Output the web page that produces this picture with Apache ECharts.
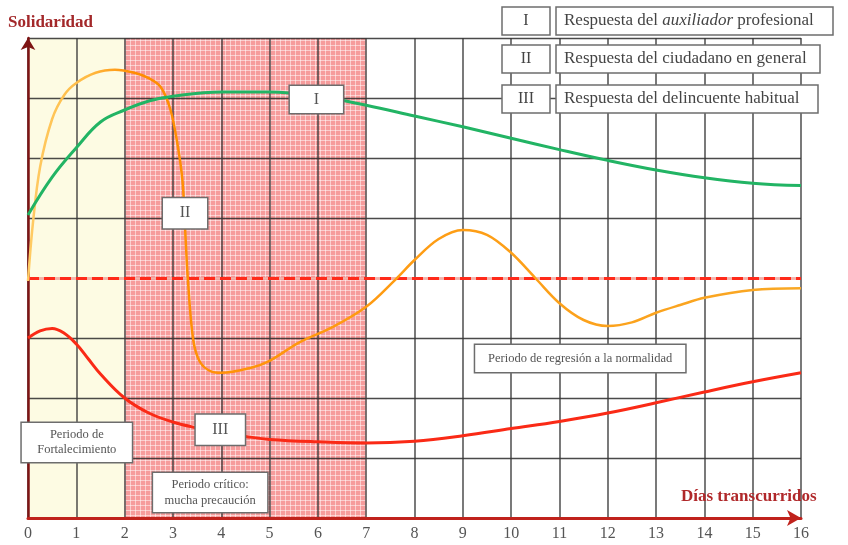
<!DOCTYPE html>
<html>
<head>
<meta charset="utf-8">
<script src="https://cdn.jsdelivr.net/npm/echarts@6/dist/echarts.min.js"></script>
<style>
  html, body { margin: 0; padding: 0; background: #fff; }
  #chart { width: 848px; height: 545px; }
</style>
</head>
<body>
<div id="chart"></div>
<script>
// dias transcurridos (eje x) y niveles de solidaridad
const xTicks = [0, 1, 2, 3, 4, 5, 6, 7, 8, 9, 10, 11, 12, 13, 14, 15, 16];

// I - Respuesta del auxiliador profesional
const auxiliador = [
  [0, 5.05], [0.5, 5.68], [1, 6.17], [1.5, 6.6], [2, 6.8], [2.5, 6.95], [3, 7.03],
  [4, 7.1], [5, 7.1], [6, 7.03], [7, 6.88], [8, 6.7], [9, 6.52], [10, 6.33],
  [11, 6.14], [12, 5.96], [13, 5.8], [14, 5.67], [15, 5.58], [16, 5.54]
];

// II - Respuesta del ciudadano en general
const ciudadano = [
  [0, 3.95], [0.1, 4.9], [0.25, 5.85], [0.5, 6.65], [0.75, 7.05], [1, 7.25],
  [1.4, 7.42], [1.8, 7.47], [2.2, 7.42], [2.5, 7.33], [2.75, 7.18], [2.95, 6.8],
  [3.1, 6.2], [3.2, 5.6], [3.25, 4.85], [3.31, 3.97], [3.42, 2.97], [3.56, 2.6],
  [3.8, 2.44], [4, 2.42], [4.6, 2.5], [5, 2.62], [5.6, 2.92], [6.3, 3.18],
  [7, 3.52], [7.6, 3.97], [8, 4.3], [8.5, 4.65], [9, 4.8], [9.5, 4.72], [10, 4.42],
  [10.5, 4.0], [11, 3.58], [11.5, 3.3], [12, 3.2], [12.5, 3.26], [13, 3.42],
  [13.5, 3.55], [14, 3.67], [15, 3.8], [16, 3.83]
];

// III - Respuesta del delincuente habitual
const delincuente = [
  [0, 3.0], [0.25, 3.12], [0.5, 3.16], [0.75, 3.08], [1, 2.9], [1.25, 2.65],
  [1.5, 2.4], [2, 2.0], [2.5, 1.75], [3, 1.6], [3.5, 1.5], [4, 1.42], [4.5, 1.36],
  [5, 1.31], [6, 1.27], [7, 1.25], [8, 1.28], [9, 1.37], [10, 1.49], [11, 1.61],
  [12, 1.75], [13, 1.92], [14, 2.1], [15, 2.27], [16, 2.42]
];

// nivel de normalidad (linea discontinua)
const normalidad = 4;

// periodos
const periodos = [
  { nombre: 'Periodo de Fortalecimiento', desde: 0, hasta: 2 },
  { nombre: 'Periodo critico', desde: 2, hasta: 7 }
];

// etiquetas dentro del grafico [x, y]
const etiquetaI = [5.97, 6.975];
const etiquetaII = [3.25, 5.08];
const etiquetaIII = [3.98, 1.47];
const notaFortalecimiento = [1.01, 1.26];
const notaCritico = [3.77, 0.425];
const notaRegresion = [11.43, 2.66];

const serif = '"Liberation Serif", "DejaVu Serif", serif';

// trama rosa del periodo critico
const pc = document.createElement('canvas');
pc.width = 5; pc.height = 5;
const pctx = pc.getContext('2d');
pctx.fillStyle = '#f69c9c';
pctx.fillRect(0, 0, 5, 5);
pctx.fillStyle = 'rgba(255,255,255,0.5)';
pctx.fillRect(0, 0, 5, 1);
pctx.fillRect(0, 0, 1, 5);

const chart = echarts.init(document.getElementById('chart'));

// caja blanca con texto, dibujada como etiqueta del markPoint
function caja(coord, texto, w, h, size) {
  const lineas = texto.split('\n').length;
  const lh = size + 3;
  const pv = (h - lineas * lh) / 2;
  return {
    coord: coord,
    symbol: 'rect',
    symbolSize: 1,
    itemStyle: { color: 'rgba(0,0,0,0)' },
    label: { show: true, position: 'inside', formatter: texto, color: '#555',
      fontFamily: serif, fontSize: size, lineHeight: lh, align: 'center',
      width: w, padding: [pv, 0, pv, 0],
      backgroundColor: '#fff', borderColor: '#6d6d6d', borderWidth: 1.5 }
  };
}

chart.setOption({
  animation: false,
  title: [
    { text: 'Solidaridad', left: 3, top: 9,
      textStyle: { fontFamily: serif, fontWeight: 'bold', fontSize: 17, color: '#a3282a' } },
    { text: 'Días transcurridos', left: 676, top: 483,
      textStyle: { fontFamily: serif, fontWeight: 'bold', fontSize: 17, color: '#b0282a' } }
  ],
  grid: { left: 28, right: 47, top: 38, bottom: 27 },
  xAxis: {
    type: 'value', min: 0, max: 16, interval: 1, z: 1,
    axisLine: { show: true, symbol: ['none', 'arrow'], symbolSize: [12, 14],
      lineStyle: { color: '#c0221c', width: 3 } },
    axisTick: { show: false },
    axisLabel: { fontFamily: serif, fontSize: 16, color: '#555', margin: 8,
      formatter: v => xTicks.indexOf(v) >= 0 ? String(v) : '' },
    splitLine: { show: true, lineStyle: { color: '#3a3a3a', width: 1.6, opacity: 0.85 } }
  },
  yAxis: {
    type: 'value', min: 0, max: 8, interval: 1, z: 1,
    axisLine: { show: true, symbol: ['none', 'arrow'], symbolSize: [11, 12],
      lineStyle: { color: '#7e1414', width: 2.5 } },
    axisTick: { show: false },
    axisLabel: { show: false },
    splitLine: { show: true, lineStyle: { color: '#2a2a2a', width: 1.4, opacity: 0.85 } }
  },
  series: [
    {
      name: 'fondo', type: 'line', data: [], z: 0, silent: true,
      markArea: {
        silent: true, z: 0,
        data: [
          [{ xAxis: periodos[0].desde, yAxis: 0, itemStyle: { color: '#fdfbe3' } },
           { xAxis: periodos[0].hasta, yAxis: 8 }],
          [{ xAxis: periodos[1].desde, yAxis: 0, itemStyle: { color: { image: pc, repeat: 'repeat' } } },
           { xAxis: periodos[1].hasta, yAxis: 8 }]
        ]
      }
    },
    {
      name: 'normalidad', type: 'line', data: [], z: 2, silent: true,
      markLine: {
        silent: true, symbol: 'none', label: { show: false }, z: 2,
        data: [
          { yAxis: normalidad, lineStyle: { color: '#f7b0a8', width: 2.5, type: 'solid' } },
          { yAxis: normalidad, lineStyle: { color: '#ff2a1a', width: 3, type: [11, 5] } }
        ]
      }
    },
    {
      name: 'III', type: 'line', data: delincuente, smooth: 0.4, showSymbol: false, z: 3,
      lineStyle: { color: '#fa2a16', width: 3 },
      markPoint: { data: [caja(etiquetaIII, 'III', 49, 30, 16)] }
    },
    {
      name: 'II', type: 'line', data: ciudadano, smooth: 0.35, showSymbol: false, z: 3,
      lineStyle: { width: 2.5, color: new echarts.graphic.LinearGradient(0, 0, 1, 0, [
        { offset: 0, color: '#ffcc66' },
        { offset: 0.08, color: '#ffbb44' },
        { offset: 0.14, color: '#ff8c00' },
        { offset: 0.4, color: '#ff9a10' },
        { offset: 1, color: '#f9a825' }
      ]) },
      markPoint: { data: [caja(etiquetaII, 'II', 44, 30, 16)] }
    },
    {
      name: 'I', type: 'line', data: auxiliador, smooth: 0.4, showSymbol: false, z: 3,
      lineStyle: { color: '#22b464', width: 3 },
      markPoint: { data: [
        caja(etiquetaI, 'I', 53, 27, 16),
        caja(notaFortalecimiento, 'Periodo de\nFortalecimiento', 110, 39, 12.5),
        caja(notaCritico, 'Periodo crítico:\nmucha precaución', 114, 39, 12.5),
        caja(notaRegresion, 'Periodo de regresión a la normalidad', 210, 27, 12.5)
      ] }
    }
  ],
  graphic: [
    { type: 'rect', shape: { x: 502, y: 7, width: 48, height: 28 },
      style: { fill: '#fff', stroke: '#6d6d6d', lineWidth: 1.5 }, z: 10 },
    { type: 'text', x: 526, y: 21, z: 11,
      style: { text: 'I', fontFamily: serif, fontSize: 16, fill: '#444', align: 'center', verticalAlign: 'middle' } },
    { type: 'rect', shape: { x: 556, y: 7, width: 277, height: 28 },
      style: { fill: '#fff', stroke: '#6d6d6d', lineWidth: 1.5 }, z: 10 },
    { type: 'text', x: 564, y: 21, z: 11,
      style: { text: 'Respuesta del {i|auxiliador} profesional', fontFamily: serif, fontSize: 17,
        fill: '#444', verticalAlign: 'middle',
        rich: { i: { fontStyle: 'italic', fontFamily: serif, fontSize: 17, fill: '#444' } } } },
    { type: 'rect', shape: { x: 502, y: 45, width: 48, height: 28 },
      style: { fill: '#fff', stroke: '#6d6d6d', lineWidth: 1.5 }, z: 10 },
    { type: 'text', x: 526, y: 59, z: 11,
      style: { text: 'II', fontFamily: serif, fontSize: 16, fill: '#444', align: 'center', verticalAlign: 'middle' } },
    { type: 'rect', shape: { x: 556, y: 45, width: 264, height: 28 },
      style: { fill: '#fff', stroke: '#6d6d6d', lineWidth: 1.5 }, z: 10 },
    { type: 'text', x: 564, y: 59, z: 11,
      style: { text: 'Respuesta del ciudadano en general', fontFamily: serif, fontSize: 17,
        fill: '#444', verticalAlign: 'middle' } },
    { type: 'rect', shape: { x: 502, y: 85, width: 48, height: 28 },
      style: { fill: '#fff', stroke: '#6d6d6d', lineWidth: 1.5 }, z: 10 },
    { type: 'text', x: 526, y: 99, z: 11,
      style: { text: 'III', fontFamily: serif, fontSize: 16, fill: '#444', align: 'center', verticalAlign: 'middle' } },
    { type: 'rect', shape: { x: 556, y: 85, width: 262, height: 28 },
      style: { fill: '#fff', stroke: '#6d6d6d', lineWidth: 1.5 }, z: 10 },
    { type: 'text', x: 564, y: 99, z: 11,
      style: { text: 'Respuesta del delincuente habitual', fontFamily: serif, fontSize: 17,
        fill: '#444', verticalAlign: 'middle' } }
  ]
});
</script>
</body>
</html>
